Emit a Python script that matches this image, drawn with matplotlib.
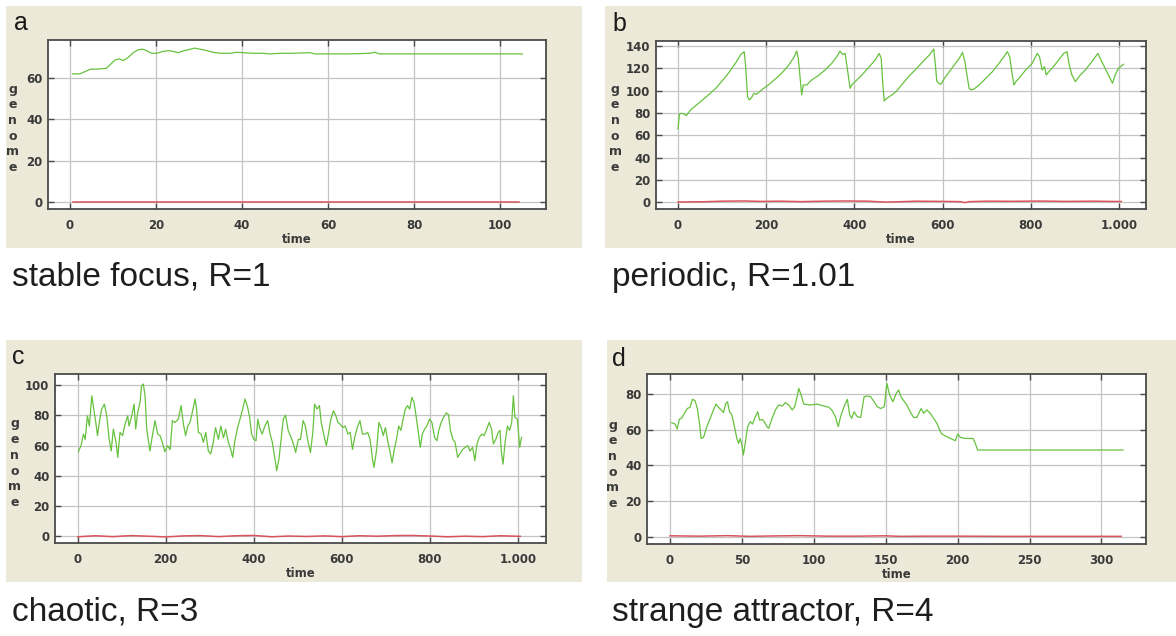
import numpy as np
import matplotlib
matplotlib.use("Agg")
import matplotlib.pyplot as plt
from matplotlib.patches import Rectangle

# ---- panel a: stable focus, R=1 ----
a_t = [0.6, 2.3, 3.5, 4.7, 7.0, 8.5, 9.3, 10.5, 11.5, 12.4, 13.6, 14.7, 15.9, 16.9,
       17.8, 19.0, 20.2, 21.6, 22.9, 24.0, 25.2, 26.4, 27.5, 29.0, 30.2, 31.8, 33.3,
       34.9, 37.2, 38.8, 40.3, 42.6, 45.0, 46.5, 48.8, 51.2, 55.8, 57.0, 64.3, 69.7,
       70.9, 72.0, 87.6, 105.2]
a_green = [61.8, 61.8, 62.9, 64.0, 64.2, 64.5, 66.1, 68.5, 69.0, 68.2, 69.8, 72.0, 73.4,
           73.7, 73.0, 71.7, 71.7, 72.6, 73.0, 72.6, 72.0, 72.9, 73.4, 74.2, 73.7, 73.0,
           72.2, 71.7, 71.7, 72.2, 72.0, 71.7, 71.7, 71.4, 71.7, 71.7, 72.0, 71.4, 71.4,
           71.7, 72.2, 71.4, 71.4, 71.4]
a_red_t = [0.6, 104.5]
a_red = [0.0, 0.0]

# ---- panel b: periodic, R=1.01 ----
b_t = [0, 3, 7.6, 13.6, 19, 22.7, 30, 41.7, 53, 64.4, 75.8, 87, 98.5, 110, 121, 132.6,
       142.4, 150, 153, 157.6, 161.4, 166.7, 172, 178, 189.4, 204.5, 219.7, 234.8, 250,
       263.6, 269, 272.7, 276.5, 280.3, 284, 291.7, 303, 318, 333.3, 348.5, 360, 367.4,
       372.7, 378.8, 384.8, 390, 394, 401.5, 416.7, 431.8, 447, 456, 460.6, 464.4, 467.4,
       473.5, 484.8, 496, 509.8, 524.8, 539.8, 555, 570, 579.7, 583.5, 586.5, 591, 596,
       603.8, 615, 626.3, 637.6, 645, 650.4, 655, 660, 664, 671.4, 682.7, 697.7, 712.8,
       727.8, 739, 746.6, 751.9, 757.9, 761.7, 767, 774.4, 788, 803, 814.3, 819.5, 825.6,
       831, 834.6, 840.6, 848, 863, 874.4, 882, 887, 893, 900.8, 912, 923.3, 938.3, 951.9,
       957, 964.7, 972, 979.7, 985, 991, 998.5, 1009.8]
b_green = [65.8, 79.0, 79.8, 79.0, 77.7, 79.8, 83.4, 87.2, 90.8, 94.7, 98.6, 102.7, 108.1,
           113.5, 119.4, 126.0, 132.5, 134.9, 123.0, 94.7, 91.7, 93.8, 97.7, 96.8, 100.7,
           105.1, 110.2, 115.6, 122.4, 130.5, 135.5, 129.0, 112.6, 96.2, 105.1, 105.1, 109.6,
           113.5, 118.5, 124.5, 130.5, 135.5, 132.5, 133.4, 117.0, 102.1, 105.1, 108.1,
           114.0, 120.6, 127.5, 133.4, 129.0, 105.1, 90.8, 93.2, 96.2, 99.8, 106.6, 113.5,
           119.4, 126.0, 132.0, 137.3, 123.0, 108.7, 106.6, 105.7, 111.0, 117.0, 123.0,
           129.0, 134.3, 126.0, 114.0, 102.1, 100.7, 101.6, 105.1, 111.0, 117.0, 124.5,
           130.5, 134.9, 130.5, 114.0, 105.1, 108.7, 111.7, 118.5, 124.5, 133.4, 130.5,
           118.5, 121.5, 114.0, 117.0, 120.0, 127.5, 133.4, 134.9, 123.0, 114.0, 108.1,
           114.0, 118.5, 126.0, 133.4, 129.0, 123.0, 117.0, 111.0, 106.6, 114.0, 120.0,
           123.6]
b_red_t = [0, 60, 100, 150, 190, 230, 280, 330, 380, 430, 470, 500, 540, 600, 640, 650,
           660, 700, 760, 820, 880, 940, 1005]
b_red = [0.3, 0.5, 1.0, 1.2, 0.8, 1.0, 0.6, 1.0, 1.2, 1.0, 0.2, 0.5, 1.0, 0.8, 0.6, -0.3,
         0.6, 1.0, 0.9, 1.1, 0.8, 1.0, 0.7]

# ---- panel c: chaotic, R=3 ----
c_t = [1.5, 7.6, 13, 17, 22, 26.5, 32, 37, 41, 45, 49, 54.5, 60.6, 66, 71, 76, 81, 87, 91,
       96, 102, 107.5, 113.5, 116.6, 122.6, 128, 131.7, 136, 141.5, 145, 149, 153, 156.7,
       164, 169.6, 175.6, 181.7, 187, 192, 198, 204, 210, 215, 221, 228.6, 234.7, 240, 245,
       250, 255, 260, 266.5, 270, 274, 280, 285.4, 290.7, 296.7, 302, 308, 313, 319.5, 325,
       331, 336, 342, 347.5, 352, 357, 363, 368.7, 374.7, 380, 385, 390, 395, 400, 405, 409,
       414, 419, 425, 431.5, 437, 442, 446.6, 452, 457, 463, 467, 472, 478, 484.5, 490, 495,
       501, 506, 512, 517, 522.6, 528.6, 534, 538, 543.6, 549, 553, 558.6, 564.7, 570, 575,
       581, 586.5, 591, 596, 602, 607.5, 613.5, 619, 624, 630, 635, 641, 646.6, 652.6,
       658.6, 664, 670, 673, 679, 684, 689, 694, 699, 704, 709, 714, 719, 724, 729, 734,
       739, 744, 749, 754, 759, 764, 768, 773, 778, 782.7, 788, 793, 799, 804.5, 810.5, 816,
       820, 825.6, 831, 837, 842, 846.6, 852, 857, 863, 868, 874, 880, 885.7, 891, 897, 902,
       906.8, 912, 918, 923, 928, 934.6, 940, 944, 949.6, 955, 959, 962, 966, 970.7, 976,
       981, 985.7, 989.5, 993, 998.5, 1003.8, 1008]
c_green = [56, 60, 67.6, 64.1, 79.6, 72.9, 92.9, 83, 75.3, 66.6, 75.3, 84.1, 87.4, 79.6,
           65.1, 56.4, 70.9, 62.2, 52.2, 68.7, 66.6, 74.2, 79.6, 72.9, 79.6, 87.4, 70.9,
           81.6, 88.4, 99.5, 100.7, 92.9, 70.9, 56.4, 66.6, 76.5, 67.6, 66.6, 62.2, 55.9,
           59.9, 57.4, 76.5, 75.3, 77.5, 86.4, 74.2, 66.6, 72.9, 75.3, 81.6, 90.8, 84.1,
           68.7, 67.6, 62.2, 68.7, 56.4, 54.5, 62.2, 71.9, 64.1, 72.9, 65.1, 70.9, 62.2,
           57.4, 52.2, 63.2, 71.9, 77.5, 84.1, 90.8, 86.4, 79.6, 67.6, 64.1, 63.2, 77.5,
           70.9, 67.6, 72.9, 76.5, 67.6, 62.2, 53.5, 43.4, 51, 66.6, 77.5, 80.1, 70, 65.4,
           61, 55.4, 64.1, 64, 76.5, 72.9, 63.2, 55.4, 68.7, 87.4, 84.1, 86.4, 75.3, 67.6,
           59.9, 68.7, 77.5, 83, 79.6, 75.3, 74.2, 71.9, 72.9, 67.6, 68.7, 57.4, 66.6, 71.9,
           76.5, 67.6, 67.6, 68.7, 64.1, 50, 45.6, 57.4, 75.3, 71.9, 66.6, 71.9, 63.2, 56.4,
           48.6, 57.4, 64.1, 72.9, 70, 77.5, 84.1, 86.4, 84.1, 91.9, 88.4, 80.6, 70, 58.8,
           67.6, 70.9, 72.9, 77.5, 75.3, 65.4, 63.2, 70, 75.3, 78.7, 81.6, 80.6, 70, 64.1,
           62.2, 52.2, 54.5, 57.4, 58.8, 59.9, 56.4, 58.8, 50, 61, 65.4, 67.6, 66.6, 70,
           75.3, 70.9, 61, 64.1, 68.7, 70, 56.4, 47.7, 62.2, 72.9, 70, 75.3, 92.9, 78.7,
           77.5, 58.8, 65.4]
c_red_t = [0, 40, 80, 120, 160, 200, 240, 280, 320, 360, 400, 440, 480, 520, 560, 600,
           640, 680, 720, 760, 800, 840, 880, 920, 960, 1005]
c_red = [-0.3, 0.4, -0.2, 0.5, 0.1, -0.4, 0.3, 0.5, -0.2, 0.4, 0.6, -0.3, 0.2, -0.1, 0.3,
         -0.2, 0.4, 0.1, 0.5, 0.6, 0.2, -0.3, 0.1, -0.2, 0.4, 0.0]

# ---- panel d: strange attractor, R=4 ----
d_t = [1.2, 3.5, 5, 6.5, 8, 10, 12, 14, 15.6, 17.4, 19, 20.5, 21.6, 23.3, 25.6, 28, 30.2,
       32, 33.7, 35.6, 37.2, 38.8, 40, 41.4, 43, 44.6, 46.5, 47.7, 48.8, 50, 51, 52.3, 54,
       55.8, 57.4, 59.3, 61, 62.3, 64, 65.6, 67.4, 68.6, 71, 73.3, 75.6, 78, 80.2, 82.6, 85,
       86.7, 88.4, 89.5, 91.2, 93, 97.7, 102.3, 107, 110.5, 112.8, 115, 117, 118.6, 121,
       123.3, 125, 126.3, 128, 130.2, 132.6, 135, 137.2, 139.5, 141.9, 144.2, 146.5, 149,
       150.8, 152.7, 155, 157.3, 159, 160.6, 163, 164.7, 167, 169.4, 171.7, 173.5, 174.7,
       176.3, 178.6, 181, 183.3, 185.6, 187.5, 189, 191.4, 195, 198.4, 200, 201.9, 205.3,
       210.7, 212.3, 213.9, 315]
d_green = [64, 63.3, 60.5, 66, 66.5, 69.3, 72, 72.7, 77.2, 76.4, 72, 63.7, 55.2, 55.8, 61.8,
           66.5, 71.2, 74.5, 72.7, 71.2, 69.7, 74.9, 75.8, 70.2, 68.4, 62.7, 55.2, 52.4,
           55.2, 51.5, 45.9, 52.4, 61.8, 64.6, 63.3, 67.4, 70.2, 65.5, 65.9, 64.6, 61.8,
           60.9, 66.5, 71.2, 74, 73.4, 75.3, 74, 71.2, 73, 78.7, 83.3, 79.6, 74.5, 74, 74.5,
           73.4, 72.7, 70.8, 67.4, 61.8, 67.4, 73, 77.2, 68.4, 66.5, 70.2, 67.4, 67, 78.7,
           79, 78.7, 75.8, 73, 72, 73, 86.1, 79.6, 75.8, 80.5, 82.4, 78.7, 75.8, 74, 70.2,
           67, 67, 70.2, 72, 69.3, 71.2, 69.3, 66.5, 63.7, 59.9, 57.7, 56.6, 55.2, 53.9,
           57.7, 55.8, 55.2, 55.2, 52.4, 48.7, 48.7]
d_red_t = [0, 20, 40, 55, 70, 90, 110, 130, 150, 160, 180, 200, 230, 260, 290, 313.7]
d_red = [0.5, 0.3, 0.6, 0.2, 0.4, 0.6, 0.3, 0.3, 0.5, 0.2, 0.3, 0.3, 0.2, 0.2, 0.2, 0.2]

panels = [
    dict(letter="a", caption="stable focus, R=1", t=a_t, green=a_green, rt=a_red_t, red=a_red,
         xticks=[0, 20, 40, 60, 80, 100], xlabels=["0", "20", "40", "60", "80", "100"],
         yticks=[0, 20, 40, 60], xlim=(-5.1, 110.7), ylim=(-3.2, 78.1),
         bg=(6, 6, 582, 248), box=(48, 40, 546, 209), lx=14, ly=30, gx=12.5, gy=89,
         cx=12, cy=277),
    dict(letter="b", caption="periodic, R=1.01", t=b_t, green=b_green, rt=b_red_t, red=b_red,
         xticks=[0, 200, 400, 600, 800, 1000], xlabels=["0", "200", "400", "600", "800", "1.000"],
         yticks=[0, 20, 40, 60, 80, 100, 120, 140], xlim=(-50, 1061), ylim=(-6, 144.5),
         bg=(605, 6, 1176, 248), box=(656, 41, 1146, 209), lx=612, ly=31, gx=615, gy=89,
         cx=612, cy=277),
    dict(letter="c", caption="chaotic, R=3", t=c_t, green=c_green, rt=c_red_t, red=c_red,
         xticks=[0, 200, 400, 600, 800, 1000], xlabels=["0", "200", "400", "600", "800", "1.000"],
         yticks=[0, 20, 40, 60, 80, 100], xlim=(-51.6, 1063.6), ylim=(-4.4, 107.3),
         bg=(6, 340, 582, 582), box=(55, 374, 546, 543), lx=12, ly=364, gx=14.5, gy=424,
         cx=12, cy=612),
    dict(letter="d", caption="strange attractor, R=4", t=d_t, green=d_green, rt=d_red_t, red=d_red,
         xticks=[0, 50, 100, 150, 200, 250, 300], xlabels=["0", "50", "100", "150", "200", "250", "300"],
         yticks=[0, 20, 40, 60, 80], xlim=(-16, 331), ylim=(-4.1, 91.4),
         bg=(607, 340, 1176, 582), box=(647, 374, 1146, 544), lx=612, ly=366, gx=612.5, gy=425,
         cx=612, cy=612),
]

W, H = 1176, 636
BEIGE = "#ece9d8"
GREEN = "#66c23e"
RED = "#d9555e"
FRAME = "#4a4a4a"
TXT = "#3a3a3a"

fig = plt.figure(figsize=(W / 100, H / 100), dpi=100)
fig.patch.set_facecolor("white")


def fx(x):
    return x / W


def fy(y):
    return 1 - y / H


for p in panels:
    x0, y0, x1, y1 = p["bg"]
    # beige panel behind each plot
    fig.patches.append(Rectangle((fx(x0), fy(y1)), (x1 - x0) / W, (y1 - y0) / H,
                                 transform=fig.transFigure, facecolor=BEIGE,
                                 edgecolor="none", zorder=-5))

    l, t, r, b = p["box"]
    ax = fig.add_axes([fx(l), fy(b), (r - l) / W, (b - t) / H])
    ax.set_zorder(2)
    ax.set_facecolor("white")
    ax.plot(p["t"], p["green"], color=GREEN, lw=0.9, zorder=3)
    ax.plot(p["rt"], p["red"], color=RED, lw=1.1, zorder=3)

    ax.set_xlim(*p["xlim"])
    ax.set_ylim(*p["ylim"])
    ax.set_xticks(p["xticks"])
    ax.set_xticklabels(p["xlabels"])
    ax.set_yticks(p["yticks"])
    ax.grid(True, color="#c4c4c4", lw=0.9)
    ax.set_axisbelow(True)
    ax.tick_params(direction="in", length=4, width=1, color=FRAME,
                   top=True, right=True, labelsize=8.5, labelcolor=TXT, pad=4)
    ax.tick_params(axis="x", pad=7)
    for lab in ax.get_xticklabels() + ax.get_yticklabels():
        lab.set_fontweight("bold")
    for s in ax.spines.values():
        s.set_color(FRAME)
        s.set_linewidth(1.3)
    ax.set_xlabel("time", fontsize=8.5, color=TXT, labelpad=1, fontweight="bold")

    # vertical stacked axis name
    for i, ch in enumerate("genome"):
        fig.text(fx(p["gx"]), fy(p["gy"] + i * 15.7), ch, ha="center", va="center",
                 fontsize=9, color=TXT, fontweight="bold")

    fig.text(fx(p["lx"]), fy(p["ly"]), p["letter"], ha="left", va="baseline",
             fontsize=18, family="Liberation Sans", color="#1a1a1a")
    fig.text(fx(p["cx"]), fy(p["cy"]), p["caption"], ha="left", va="center",
             fontsize=24, family="Liberation Sans", color="#1e1e1e")

fig.savefig("out.png", dpi=100)
